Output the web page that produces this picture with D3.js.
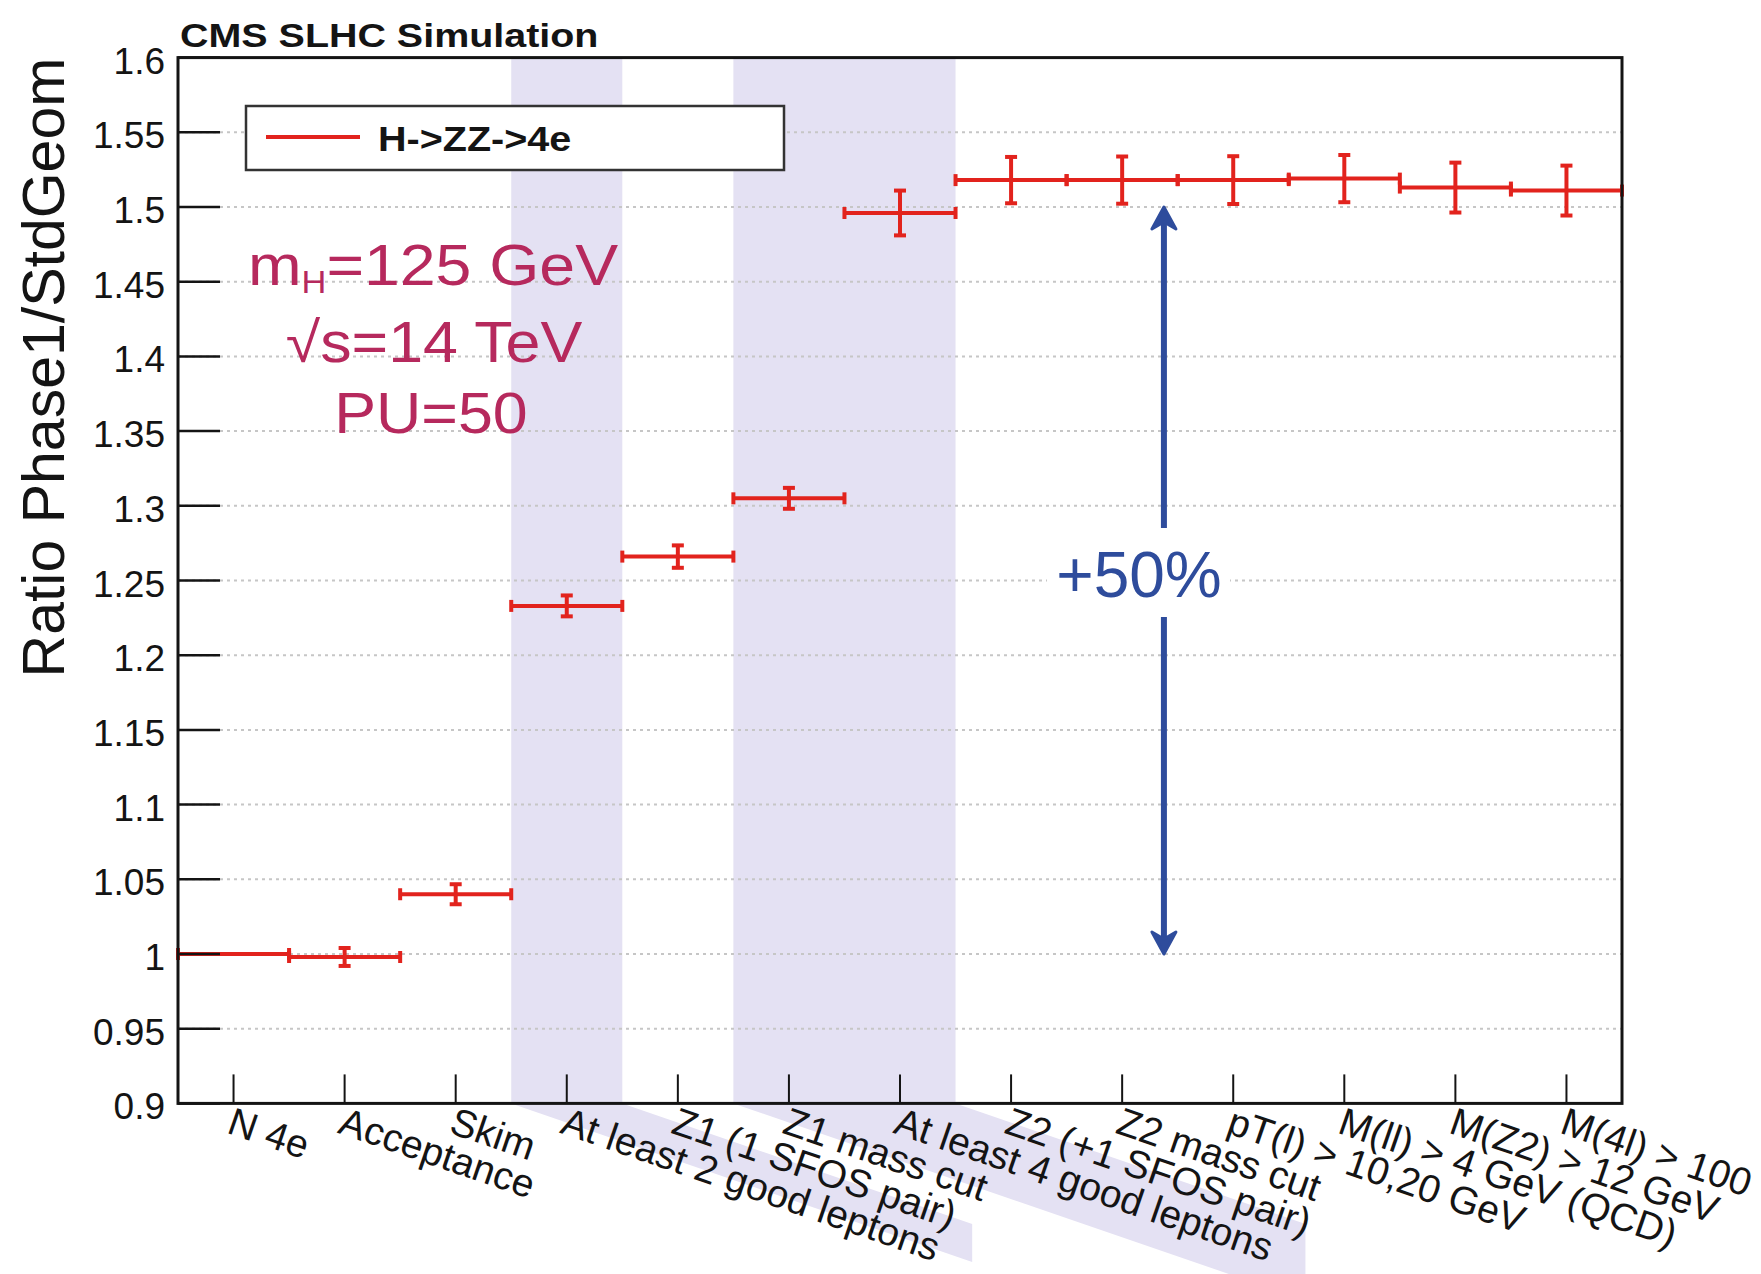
<!DOCTYPE html>
<html>
<head>
<meta charset="utf-8">
<script src="https://cdn.jsdelivr.net/npm/d3@7"></script>
<style>
  html, body { margin: 0; padding: 0; background: #fff; }
  svg { display: block; }
  text { font-family: "Liberation Sans", Arial, Helvetica, sans-serif; }
</style>
</head>
<body>
<svg id="chart" width="1761" height="1274"></svg>
<script>
// Selection steps of the H->ZZ->4e analysis
const categories = [
  "N 4e", "Acceptance", "Skim", "At least 2 good leptons", "Z1 (1 SFOS pair)",
  "Z1 mass cut", "At least 4 good leptons", "Z2 (+1 SFOS pair)", "Z2 mass cut",
  "pT(l) > 10,20 GeV", "M(ll) > 4 GeV (QCD)", "M(Z2) > 12 GeV", "M(4l) > 100"
];
// Efficiency ratio Phase1 / StdGeom per step, and its uncertainty
const ratios      = [1.000, 0.998, 1.040, 1.233, 1.266, 1.305, 1.496, 1.518, 1.518, 1.518, 1.519, 1.513, 1.511];
const ratioErrors = [0.000, 0.006, 0.0067, 0.007, 0.0075, 0.007, 0.015, 0.0155, 0.0158, 0.016, 0.0158, 0.0167, 0.0167];
// Y axis ticks
const yTickValues = [0.9, 0.95, 1.0, 1.05, 1.1, 1.15, 1.2, 1.25, 1.3, 1.35, 1.4, 1.45, 1.5, 1.55, 1.6];
const yTickLabels = ["0.9", "0.95", "1", "1.05", "1.1", "1.15", "1.2", "1.25", "1.3", "1.35", "1.4", "1.45", "1.5", "1.55", "1.6"];
// Highlighted steps (bin ranges [first, last+1])
const highlightedBins = [[3, 4], [5, 7]];
// Annotation texts
const legendLabel = "H->ZZ->4e";
const gainLabel = "+50%";
const gainFrom = 1.0, gainTo = 1.5;

const svg = d3.select("#chart");
const X0 = 178, X1 = 1622, Y0 = 1103.4, Y1 = 57.6;
const x = d3.scaleLinear().domain([0, categories.length]).range([X0, X1]);
const y = d3.scaleLinear().domain([0.9, 1.6]).range([Y0, Y1]);

const RED = "#e2231d", BAND = "#e4e1f3", INK = "#141414";
const MAGENTA = "#b6295d", BLUE = "#2e4c9c";
const labelAngle = 19;
const slope = Math.tan(labelAngle * Math.PI / 180);

// Highlight bands, continued as slanted strips under the step labels
const tailEnds = [7.15, 10.15];  // in bin units along x
highlightedBins.forEach(([a, b], k) => {
  svg.append("rect")
    .attr("x", x(a)).attr("y", Y1)
    .attr("width", x(b) - x(a)).attr("height", Y0 - Y1)
    .attr("fill", BAND);
  const xa = x(a), xb = x(b), xe = x(tailEnds[k]);
  svg.append("polygon")
    .attr("points", [
      [xa, Y0], [xb, Y0],
      [xe, Y0 + (xe - xb) * slope],
      [xe, Y0 + (xe - xa) * slope]
    ].map(p => p.join(",")).join(" "))
    .attr("fill", BAND);
});

// Dotted horizontal grid
svg.append("g").selectAll("line")
  .data(yTickValues.slice(1, -1))
  .join("line")
  .attr("x1", X0).attr("x2", X1)
  .attr("y1", d => y(d)).attr("y2", d => y(d))
  .attr("stroke", "#c6c6c6").attr("stroke-width", 2)
  .attr("stroke-dasharray", "3,4");

// Legend
const legend = svg.append("g");
legend.append("rect")
  .attr("x", 246).attr("y", 106).attr("width", 538).attr("height", 64)
  .attr("fill", "#fff").attr("stroke", "#333").attr("stroke-width", 2.5);
legend.append("line")
  .attr("x1", 266).attr("x2", 360).attr("y1", 137).attr("y2", 137)
  .attr("stroke", RED).attr("stroke-width", 4);
legend.append("g").attr("transform", "translate(378,151) scale(1.13,1)")
  .append("text").attr("font-size", 35).attr("font-weight", "bold")
  .attr("fill", INK).text(legendLabel);

// Points with x (bin width) and y error bars
const pts = svg.append("g").attr("stroke", RED).attr("stroke-width", 4).attr("fill", "none");
categories.forEach((c, i) => {
  const v = ratios[i], e = ratioErrors[i];
  const yv = y(v), xl = x(i), xr = x(i + 1), xc = x(i + 0.5);
  pts.append("line").attr("x1", xl).attr("x2", xr).attr("y1", yv).attr("y2", yv);
  [xl, xr].forEach(xx => pts.append("line")
    .attr("x1", xx).attr("x2", xx).attr("y1", yv - 6).attr("y2", yv + 6));
  if (e > 0) {
    pts.append("line").attr("x1", xc).attr("x2", xc)
      .attr("y1", y(v - e)).attr("y2", y(v + e));
    [v - e, v + e].forEach(w => pts.append("line")
      .attr("x1", xc - 6).attr("x2", xc + 6).attr("y1", y(w)).attr("y2", y(w)));
  }
});

// Frame
svg.append("rect")
  .attr("x", X0).attr("y", Y1).attr("width", X1 - X0).attr("height", Y0 - Y1)
  .attr("fill", "none").attr("stroke", INK).attr("stroke-width", 3);

// Y ticks and labels
const yAxis = svg.append("g");
yAxis.selectAll("line").data(yTickValues).join("line")
  .attr("x1", X0).attr("x2", X0 + 42)
  .attr("y1", d => y(d)).attr("y2", d => y(d))
  .attr("stroke", INK).attr("stroke-width", 2.5);
yAxis.selectAll("text").data(yTickValues).join("text")
  .attr("x", 165).attr("y", d => y(d) + 16)
  .attr("text-anchor", "end").attr("font-size", 37).attr("fill", INK)
  .text((d, i) => yTickLabels[i]);

// Y axis title
svg.append("text")
  .attr("transform", `translate(64,${Y1}) rotate(-90)`)
  .attr("text-anchor", "end").attr("font-size", 59).attr("fill", INK)
  .text("Ratio Phase1/StdGeom");

// X ticks and rotated step labels
const xAxis = svg.append("g");
xAxis.selectAll("line").data(categories).join("line")
  .attr("x1", (d, i) => x(i + 0.5)).attr("x2", (d, i) => x(i + 0.5))
  .attr("y1", Y0).attr("y2", Y0 - 29)
  .attr("stroke", INK).attr("stroke-width", 2);
xAxis.selectAll("text").data(categories).join("text")
  .attr("transform", (d, i) => `translate(${x(i + 0.5) - 8},${Y0 + 29}) rotate(${labelAngle})`)
  .attr("font-size", 39).attr("fill", INK)
  .text(d => d);

// Title
svg.append("g").attr("transform", "translate(180,47) scale(1.16,1)")
  .append("text").attr("font-size", 34).attr("font-weight", "bold").attr("fill", INK)
  .text("CMS SLHC Simulation");

// Simulation conditions
const cond = svg.append("g").attr("fill", MAGENTA);
const l1 = cond.append("g").attr("transform", "translate(433,285) scale(1.11,1)")
  .append("text").attr("text-anchor", "middle").attr("font-size", 58);
l1.append("tspan").text("m");
l1.append("tspan").attr("font-size", 31).attr("dy", 8).text("H");
l1.append("tspan").attr("dy", -8).text("=125 GeV");
cond.append("g").attr("transform", "translate(434,361.7) scale(1.1,1)")
  .append("text").attr("text-anchor", "middle").attr("font-size", 57).text("\u221As=14 TeV");
cond.append("g").attr("transform", "translate(431,433) scale(1.1,1)")
  .append("text").attr("text-anchor", "middle").attr("font-size", 57).text("PU=50");

// Double arrow showing the gain
const ax = x(8.876);
const arrow = svg.append("g").attr("fill", BLUE).attr("stroke", BLUE);
arrow.append("line").attr("x1", ax).attr("x2", ax)
  .attr("y1", y(gainTo) + 12).attr("y2", y(gainFrom) - 12)
  .attr("stroke-width", 6);
const head = "M0,0 L12,22 L0,15 L-12,22 Z";
arrow.append("path").attr("d", head)
  .attr("transform", `translate(${ax},${y(gainTo)})`)
  .attr("stroke-width", 3).attr("stroke-linejoin", "round");
arrow.append("path").attr("d", head)
  .attr("transform", `translate(${ax},${y(gainFrom)}) rotate(180)`)
  .attr("stroke-width", 3).attr("stroke-linejoin", "round");
svg.append("rect").attr("x", 1047).attr("y", 528).attr("width", 183).attr("height", 89)
  .attr("fill", "#fff");
svg.append("text").attr("x", 1139).attr("y", 597)
  .attr("text-anchor", "middle").attr("font-size", 64).attr("fill", BLUE)
  .text(gainLabel);
</script>
</body>
</html>
